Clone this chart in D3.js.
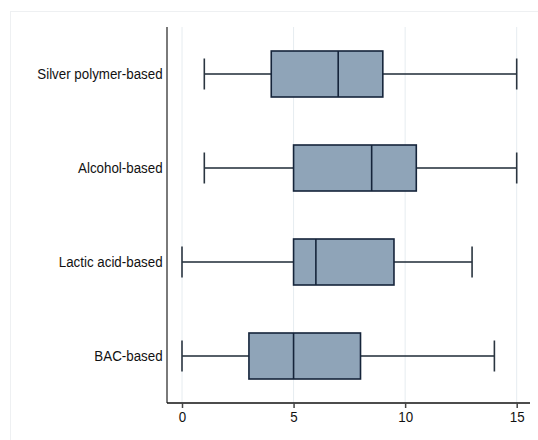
<!DOCTYPE html>
<html>
<head>
<meta charset="utf-8">
<script src="https://cdn.jsdelivr.net/npm/d3@7/dist/d3.min.js"></script>
<style>
  html, body { margin: 0; padding: 0; background: #fff; }
  svg { display: block; }
  text { font-family: "Liberation Sans", Arial, sans-serif; fill: #111; }
</style>
</head>
<body>
<svg id="chart" width="538" height="440"></svg>
<script>
// ---- data ----
const categories = ["Silver polymer-based", "Alcohol-based", "Lactic acid-based", "BAC-based"];
const minValues    = [1, 1, 0, 0];
const q1Values     = [4, 5, 5, 3];
const medianValues = [7, 8.5, 6, 5];
const q3Values     = [9, 10.5, 9.5, 8];
const maxValues    = [15, 15, 13, 14];
const xTicks = [0, 5, 10, 15];

const rows = categories.map((c, i) => ({
  cat: c, min: minValues[i], q1: q1Values[i], med: medianValues[i], q3: q3Values[i], max: maxValues[i]
}));

// ---- layout ----
const W = 538, H = 440;
const plotLeft = 167, plotRight = 530, plotTop = 27, plotBottom = 403;
const boxH = 46, capH = 31;
const fontFam = "'Liberation Sans', Arial, sans-serif";
const fontSize = 15, squeeze = 0.89;

const svg = d3.select("#chart");

// outer frame
svg.append("rect")
  .attr("x", 10.5).attr("y", 11.5)
  .attr("width", W + 10).attr("height", H + 10)
  .attr("fill", "#fff")
  .attr("stroke", "#eef0f2").attr("stroke-width", 1);

const x = d3.scaleLinear().domain([0, 15]).range([182, 516.7]);
const y = d3.scaleBand().domain(categories).range([plotTop, plotBottom]).padding(0);

// gridlines
svg.append("g").selectAll("line").data(xTicks).join("line")
  .attr("x1", d => x(d)).attr("x2", d => x(d))
  .attr("y1", plotTop).attr("y2", plotBottom)
  .attr("stroke", "#e6ecf0").attr("stroke-width", 1);

// boxes
const g = svg.append("g").selectAll("g").data(rows).join("g")
  .attr("transform", d => `translate(0,${y(d.cat) + y.bandwidth() / 2})`);

const wColor = "#1e2a36";
// whiskers
g.append("line")
  .attr("x1", d => x(d.min)).attr("x2", d => x(d.q1))
  .attr("y1", 0).attr("y2", 0)
  .attr("stroke", wColor).attr("stroke-width", 1.6);
g.append("line")
  .attr("x1", d => x(d.q3)).attr("x2", d => x(d.max))
  .attr("y1", 0).attr("y2", 0)
  .attr("stroke", wColor).attr("stroke-width", 1.6);
// caps
g.append("line")
  .attr("x1", d => x(d.min)).attr("x2", d => x(d.min))
  .attr("y1", -capH / 2).attr("y2", capH / 2)
  .attr("stroke", "#2a3540").attr("stroke-width", 1.6);
g.append("line")
  .attr("x1", d => x(d.max)).attr("x2", d => x(d.max))
  .attr("y1", -capH / 2).attr("y2", capH / 2)
  .attr("stroke", "#2a3540").attr("stroke-width", 1.6);
// box
g.append("rect")
  .attr("x", d => x(d.q1)).attr("width", d => x(d.q3) - x(d.q1))
  .attr("y", -boxH / 2).attr("height", boxH)
  .attr("fill", "#8fa4b8")
  .attr("stroke", "#15243a").attr("stroke-width", 1.6);
// median
g.append("line")
  .attr("x1", d => x(d.med)).attr("x2", d => x(d.med))
  .attr("y1", -boxH / 2).attr("y2", boxH / 2)
  .attr("stroke", "#15243a").attr("stroke-width", 1.6);

// y axis
const yAxis = svg.append("g")
  .attr("transform", `translate(${plotLeft},0)`)
  .call(d3.axisLeft(y).tickSize(0).tickPadding(5));
yAxis.select(".domain").attr("stroke", "#7a7a7a").attr("stroke-width", 2)
  .attr("d", `M0,${plotTop}V${plotBottom}`);
yAxis.selectAll("text").attr("font-size", fontSize)
  .style("font-family", fontFam).attr("fill", "#111")
  .attr("transform", `scale(${squeeze},1)`);

// x axis
const xAxis = svg.append("g")
  .attr("transform", `translate(0,${plotBottom})`)
  .call(d3.axisBottom(x).tickValues(xTicks).tickFormat(d3.format("d")).tickSize(5).tickPadding(3));
xAxis.select(".domain").attr("stroke", "#111").attr("stroke-width", 1.5)
  .attr("d", `M${plotLeft},0H${plotRight}`);
xAxis.selectAll(".tick line").attr("stroke", "#444").attr("stroke-width", 1.5);
xAxis.selectAll("text").attr("font-size", fontSize)
  .style("font-family", fontFam).attr("fill", "#111")
  .attr("transform", `scale(${squeeze},1)`);
</script>
</body>
</html>
